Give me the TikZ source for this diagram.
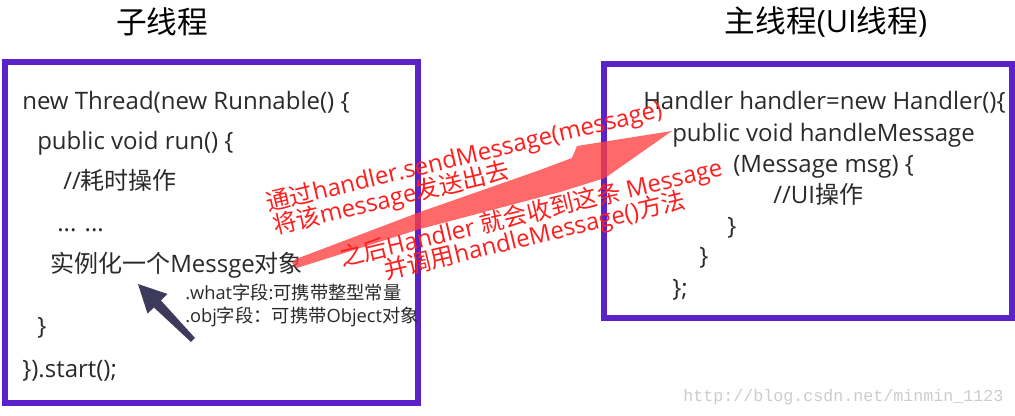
\documentclass[tikz,border=0pt]{standalone}
\usepackage{fontspec}
\setmainfont{Open Sans}
\newfontfamily\cjk{Noto Sans CJK SC}
\newfontfamily\wmfont{Liberation Mono}
\definecolor{boxpurple}{HTML}{5A22C8}
\definecolor{codegray}{HTML}{2A2A2A}
\definecolor{redtext}{HTML}{FF1E1E}
\definecolor{redarrow}{HTML}{FF4040}
\definecolor{darkarrow}{HTML}{3E3A5C}
\begin{document}
\begin{tikzpicture}[x=0.75pt,y=-0.75pt,
  threadbox/.style={draw=boxpurple,line width=4.5pt},
  title/.style={inner sep=0pt,text=black,font=\fontsize{23pt}{27pt}\selectfont},
  code/.style={inner sep=0pt,anchor=base west,text=codegray,font=\fontsize{18pt}{22pt}\selectfont},
  note/.style={inner sep=0pt,anchor=base west,text=codegray,font=\fontsize{13.7pt}{16pt}\selectfont},
  redlabel/.style={inner sep=0pt,anchor=base west,text=redtext,rotate=13.5,font=\fontsize{18pt}{21pt}\selectfont},
  watermark/.style={inner sep=0pt,anchor=base west,text=black!20,font=\wmfont\fontsize{12.5pt}{15pt}\selectfont}]
\useasboundingbox (0,0) rectangle (1015,416);
\fill[white] (0,0) rectangle (1015,416);
% titles
\node[title] (t1) at (162,22) {\cjk 子线程};
\node[title] (t2) at (826,22) {{\cjk 主线程}(UI{\cjk 线程})};
% boxes
\draw[threadbox] (4.5,62) rectangle (418,403);
\draw[threadbox] (604,64.5) rectangle (1012,318);
% left code
\node[code] (l1) at (22,110) {new Thread(new Runnable() \{};
\node[code] (l2) at (37,150) {public void run() \{};
\node[code] (l3) at (63,190) {//{\cjk 耗时操作}};
\node[code] (l4) at (57,232) {... ...};
\node[code] (l5) at (50,273) {{\cjk 实例化一个}Messge{\cjk 对象}};
\node[note] (n1) at (185,300) {.what{\cjk 字段}:{\cjk 可携带整型常量}};
\node[note] (n2) at (185,323) {.obj{\cjk 字段：可携带}Object{\cjk 对象}};
\node[code] (l6) at (37,335) {\}};
\node[code] (l7) at (22,378) {\}).start();};
% right code
\node[code] (r1) at (643,110) {Handler handler=new Handler()\{};
\node[code] (r2) at (672,142) {public void handleMessage};
\node[code] (r3) at (733,173) {(Message msg) \{};
\node[code] (r4) at (773,204) {//UI{\cjk 操作}};
\node[code] (r5) at (727,235) {\}};
\node[code] (r6) at (699,265) {\}};
\node[code] (r7) at (672,297) {\};};
% red arrow
\fill[redarrow,opacity=0.78]
  (292,263) -- (296,259) -- (420,212) -- (540,170) -- (572,158) -- (577,146)
  -- (672,131) -- (605,178) -- (560,192) -- (420,229) -- (297,268) -- cycle;
% dark arrow
\fill[darkarrow]
  (138,284) -- (167.5,294) -- (161,300.5) -- (195,338) -- (191,342)
  -- (154,307.5) -- (147.5,313.5) -- cycle;
% red labels
\node[redlabel] (a1) at (268,212) {{\cjk 通过}handler.sendMessage(message)};
\node[redlabel] (a2) at (275,235) {{\cjk 将该}message{\cjk 发送出去}};
\node[redlabel] (a3) at (342,267) {{\cjk 之后}Handler {\cjk 就会收到这条} Message};
\node[redlabel] (a4) at (386,280) {{\cjk 并调用}handleMessage(){\cjk 方法}};
% watermark
\node[watermark] (wm) at (683,402) {http://blog.csdn.net/minmin\_1123};
\end{tikzpicture}
\end{document}
